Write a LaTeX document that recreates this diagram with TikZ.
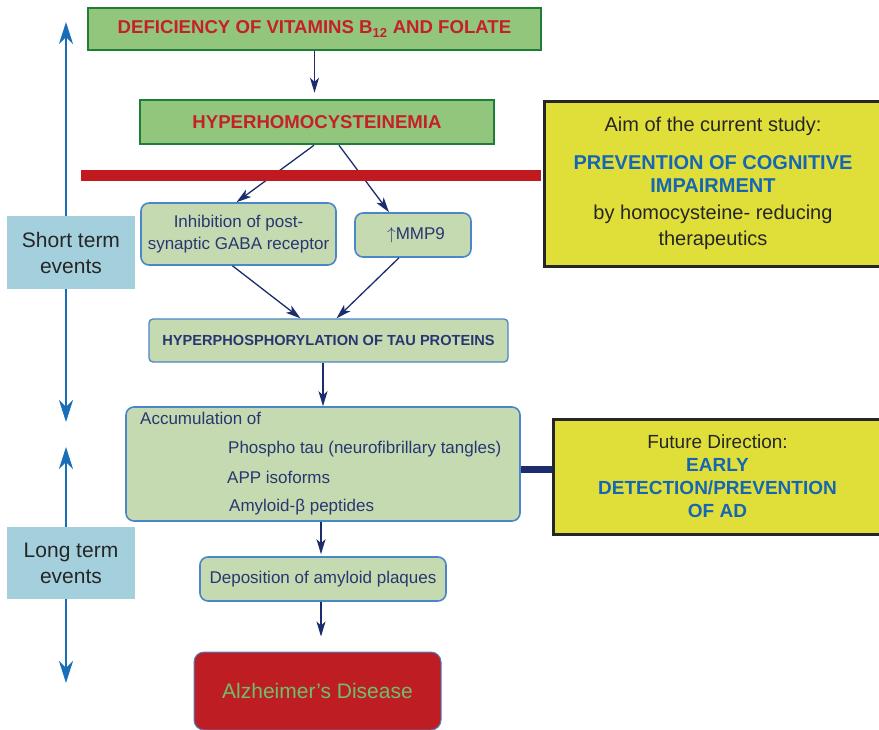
\documentclass[tikz,border=0pt]{standalone}
\usepackage{fontspec}
\setmainfont{Liberation Sans}
\usetikzlibrary{arrows.meta}

\definecolor{boxgreen}{RGB}{147,198,125}
\definecolor{edgegreen}{RGB}{30,125,55}
\definecolor{titlered}{RGB}{196,32,42}
\definecolor{palegreen}{RGB}{198,218,178}
\definecolor{edgeblue}{RGB}{74,134,200}
\definecolor{inknavy}{RGB}{40,55,112}
\definecolor{linknavy}{RGB}{28,44,108}
\definecolor{timeblue}{RGB}{25,110,185}
\definecolor{labelblue}{RGB}{164,208,222}
\definecolor{barred}{RGB}{193,25,32}
\definecolor{noteyellow}{RGB}{224,223,58}
\definecolor{noteblue}{RGB}{22,102,180}
\definecolor{adred}{RGB}{190,30,35}
\definecolor{adgreen}{RGB}{112,190,108}

\newcommand{\pxfont}[2]{\fontsize{#1}{#2}\selectfont}
\newcommand{\notehead}[1]{\textcolor{noteblue}{\bfseries #1}}

\tikzset{
  headbox/.style={draw=edgegreen, line width=2.5pt, fill=boxgreen, text=titlered,
    font=\pxfont{18.6}{22}\bfseries, inner sep=0pt},
  eventbox/.style={draw=edgeblue, line width=1.6pt, fill=palegreen, text=inknavy,
    rounded corners=8pt, inner sep=0pt, align=center, font=\pxfont{17}{21.5}},
  timelabel/.style={fill=labelblue, text=black!85, font=\pxfont{21}{26},
    align=center, inner sep=0pt},
  notebox/.style={draw=black!85, line width=3pt, fill=noteyellow, text=black!85,
    inner sep=0pt, align=center},
  link/.style={draw=linknavy, line width=1.3pt, -{Stealth[length=15pt,width=9pt,inset=4pt]}},
  timeline/.style={draw=timeblue, line width=2.5pt, -{Stealth[length=22pt,width=14pt,inset=7pt]}},
  barline/.style={draw=barred, line width=11pt}
}

\begin{document}
\begin{tikzpicture}[x=1pt, y=-1pt]
  \useasboundingbox (0,0) rectangle (879,729);

  %%main chain
  \node[headbox, minimum width=453pt, minimum height=42pt] (defic) at (314.5, 29)
    {DEFICIENCY OF VITAMINS B\textsubscript{12} AND FOLATE};
  \node[headbox, minimum width=354pt, minimum height=44pt] (hhcy) at (317, 122)
    {HYPERHOMOCYSTEINEMIA};
  \node[eventbox, minimum width=195pt, minimum height=62pt] (gaba) at (238.5, 234)
    {Inhibition of post-\\synaptic GABA receptor};
  \node[eventbox, minimum width=116pt, minimum height=44pt] (mmp) at (413, 235)
    {\hspace*{6pt}$\uparrow$MMP9};
  \node[eventbox, rounded corners=4pt, line width=1.3pt, minimum width=359pt, minimum height=43pt,
    font=\pxfont{14.6}{17}\bfseries] (tau) at (328.5, 340.5)
    {HYPERPHOSPHORYLATION OF TAU PROTEINS};

  %%accumulation box
  \node[eventbox, minimum width=394pt, minimum height=114pt] (accum) at (323, 464) {};
    \node[anchor=west, inner sep=0pt, text=inknavy, font=\pxfont{17}{21}] (acchead) at (140, 418) {Accumulation of};
    \node[anchor=west, inner sep=0pt, text=inknavy, font=\pxfont{17}{21}] (acctau) at (228, 449) {Phospho tau (neurofibrillary tangles)};
    \node[anchor=west, inner sep=0pt, text=inknavy, font=\pxfont{17}{21}] (accapp) at (227, 477) {APP isoforms};
    \node[anchor=west, inner sep=0pt, text=inknavy, font=\pxfont{17}{21}] (accbeta) at (229, 507) {Amyloid-β peptides};

  \node[eventbox, minimum width=246pt, minimum height=44pt] (depos) at (323, 579)
    {Deposition of amyloid plaques};
  \node[draw=edgeblue, line width=1pt, fill=adred, text=adgreen, rounded corners=10pt,
    minimum width=247pt, minimum height=78pt, font=\pxfont{21}{25}] (alz) at (317.5, 691)
    {Alzheimer’s Disease};

  %%side notes
  \node[notebox, minimum width=338pt, minimum height=165pt, font=\pxfont{20}{24}] (aim) at (713, 183.5)
    {Aim of the current study:\\[14pt]
     \notehead{PREVENTION OF COGNITIVE}\\[-1pt]
     \notehead{IMPAIRMENT}\\[3pt]
     by homocysteine- reducing\\[2pt]
     therapeutics};
  \node[notebox, minimum width=329pt, minimum height=115pt, font=\pxfont{19}{23}] (future) at (717.5, 476.5)
    {Future Direction:\\
     \notehead{EARLY}\\
     \notehead{DETECTION/PREVENTION}\\
     \notehead{OF AD}};

  %%time labels
  \node[timelabel, minimum width=128pt, minimum height=73pt] (short) at (71, 252.5) {Short term\\events};
  \node[timelabel, minimum width=128pt, minimum height=72pt] (long) at (71, 563) {Long term\\events};
  \coordinate (shortup) at (66, 22);
  \coordinate (shortdown) at (66, 422);
  \coordinate (longup) at (66, 447);
  \coordinate (longdown) at (66, 683);

  %%arrows
  \draw[link, shorten >=6pt] (defic.south) -- (defic.south |- hhcy.north);
  \draw[link] ([xshift=-3pt]hhcy.south) -- ([xshift=-2pt]gaba.north);
  \draw[link] ([xshift=22pt]hhcy.south) -- ([xshift=-24pt]mmp.north);
  \draw[link] ([xshift=-6pt]gaba.south) -- ([xshift=-28pt]tau.north);
  \draw[link] ([xshift=-14pt]mmp.south) -- ([xshift=8pt]tau.north);
  \draw[link] (accum.north |- tau.south) -- (accum.north);
  \draw[link, shorten >=2pt] ([xshift=-2pt]depos.north |- accum.south) -- ([xshift=-2pt]depos.north);
  \draw[link, shorten >=15pt] ([xshift=-2pt]depos.south) -- ([xshift=-2pt]depos.south |- alz.north);
  \draw[draw=linknavy, line width=7pt] ([yshift=-5pt]accum.east) -- ([yshift=-5pt]accum.east -| future.west);

  %%time axis
  \draw[timeline] (short.north -| shortup) -- (shortup);
  \draw[timeline] (short.south -| shortdown) -- (shortdown);
  \draw[timeline] (long.north -| longup) -- (longup);
  \draw[timeline] (long.south -| longdown) -- (longdown);

  %%red bar
  \coordinate (barstart) at (81, 175.5);
  \draw[barline] (barstart) -- ([xshift=-1.5pt]barstart -| aim.west);
\end{tikzpicture}
\end{document}
